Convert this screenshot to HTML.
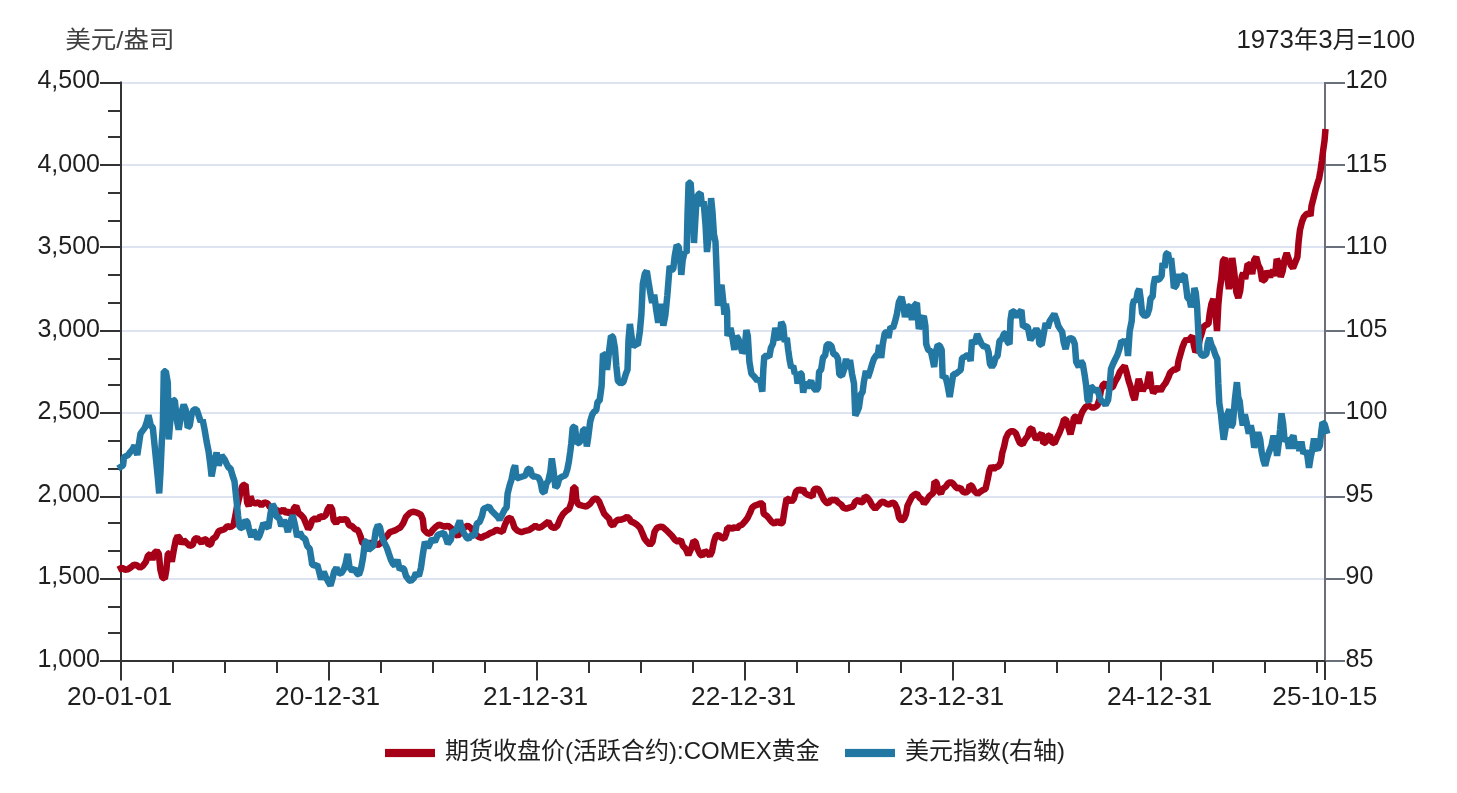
<!DOCTYPE html>
<html><head><meta charset="utf-8"><title>chart</title>
<style>
html,body{margin:0;padding:0;background:#fff;overflow:hidden}
svg{display:block}
text{font-family:"Liberation Sans","Noto Sans CJK SC",sans-serif;font-size:24px;fill:#1f1f1f}
.n{font-size:25.5px}
</style></head><body>
<svg width="1457" height="793" viewBox="0 0 1457 793">
<rect width="1457" height="793" fill="#fff"/>

<line x1="121" y1="579" x2="1325" y2="579" stroke="#dde3f0" stroke-width="2"/>
<line x1="121" y1="497" x2="1325" y2="497" stroke="#dde3f0" stroke-width="2"/>
<line x1="121" y1="413" x2="1325" y2="413" stroke="#dde3f0" stroke-width="2"/>
<line x1="121" y1="331" x2="1325" y2="331" stroke="#dde3f0" stroke-width="2"/>
<line x1="121" y1="247" x2="1325" y2="247" stroke="#dde3f0" stroke-width="2"/>
<line x1="121" y1="165" x2="1325" y2="165" stroke="#dde3f0" stroke-width="2"/>
<line x1="121" y1="83" x2="1325" y2="83" stroke="#dde3f0" stroke-width="2"/>
<line x1="1325" y1="82" x2="1325" y2="661" stroke="#6b6e7b" stroke-width="2"/>
<line x1="1325" y1="661" x2="1345" y2="661" stroke="#6b6e7b" stroke-width="2"/>
<line x1="1325" y1="579" x2="1345" y2="579" stroke="#6b6e7b" stroke-width="2"/>
<line x1="1325" y1="497" x2="1345" y2="497" stroke="#6b6e7b" stroke-width="2"/>
<line x1="1325" y1="413" x2="1345" y2="413" stroke="#6b6e7b" stroke-width="2"/>
<line x1="1325" y1="331" x2="1345" y2="331" stroke="#6b6e7b" stroke-width="2"/>
<line x1="1325" y1="247" x2="1345" y2="247" stroke="#6b6e7b" stroke-width="2"/>
<line x1="1325" y1="165" x2="1345" y2="165" stroke="#6b6e7b" stroke-width="2"/>
<line x1="1325" y1="83" x2="1345" y2="83" stroke="#6b6e7b" stroke-width="2"/>
<line x1="121" y1="81.5" x2="121" y2="680" stroke="#333333" stroke-width="2"/>
<line x1="100" y1="661" x2="121" y2="661" stroke="#333333" stroke-width="2"/>
<line x1="100" y1="579" x2="121" y2="579" stroke="#333333" stroke-width="2"/>
<line x1="100" y1="497" x2="121" y2="497" stroke="#333333" stroke-width="2"/>
<line x1="100" y1="413" x2="121" y2="413" stroke="#333333" stroke-width="2"/>
<line x1="100" y1="331" x2="121" y2="331" stroke="#333333" stroke-width="2"/>
<line x1="100" y1="247" x2="121" y2="247" stroke="#333333" stroke-width="2"/>
<line x1="100" y1="165" x2="121" y2="165" stroke="#333333" stroke-width="2"/>
<line x1="100" y1="83" x2="121" y2="83" stroke="#333333" stroke-width="2"/>
<line x1="108" y1="633" x2="121" y2="633" stroke="#333333" stroke-width="2"/>
<line x1="108" y1="607" x2="121" y2="607" stroke="#333333" stroke-width="2"/>
<line x1="108" y1="551" x2="121" y2="551" stroke="#333333" stroke-width="2"/>
<line x1="108" y1="523" x2="121" y2="523" stroke="#333333" stroke-width="2"/>
<line x1="108" y1="469" x2="121" y2="469" stroke="#333333" stroke-width="2"/>
<line x1="108" y1="441" x2="121" y2="441" stroke="#333333" stroke-width="2"/>
<line x1="108" y1="385" x2="121" y2="385" stroke="#333333" stroke-width="2"/>
<line x1="108" y1="359" x2="121" y2="359" stroke="#333333" stroke-width="2"/>
<line x1="108" y1="303" x2="121" y2="303" stroke="#333333" stroke-width="2"/>
<line x1="108" y1="275" x2="121" y2="275" stroke="#333333" stroke-width="2"/>
<line x1="108" y1="221" x2="121" y2="221" stroke="#333333" stroke-width="2"/>
<line x1="108" y1="193" x2="121" y2="193" stroke="#333333" stroke-width="2"/>
<line x1="108" y1="137" x2="121" y2="137" stroke="#333333" stroke-width="2"/>
<line x1="108" y1="111" x2="121" y2="111" stroke="#333333" stroke-width="2"/>
<line x1="100" y1="661" x2="1325" y2="661" stroke="#333333" stroke-width="2"/>
<line x1="121.00" y1="661" x2="121.00" y2="680.5" stroke="#333333" stroke-width="2"/>
<line x1="173.00" y1="661" x2="173.00" y2="673" stroke="#333333" stroke-width="2"/>
<line x1="225.00" y1="661" x2="225.00" y2="673" stroke="#333333" stroke-width="2"/>
<line x1="277.00" y1="661" x2="277.00" y2="673" stroke="#333333" stroke-width="2"/>
<line x1="329.00" y1="661" x2="329.00" y2="680.5" stroke="#333333" stroke-width="2"/>
<line x1="381.00" y1="661" x2="381.00" y2="673" stroke="#333333" stroke-width="2"/>
<line x1="433.00" y1="661" x2="433.00" y2="673" stroke="#333333" stroke-width="2"/>
<line x1="485.00" y1="661" x2="485.00" y2="673" stroke="#333333" stroke-width="2"/>
<line x1="537.00" y1="661" x2="537.00" y2="680.5" stroke="#333333" stroke-width="2"/>
<line x1="589.00" y1="661" x2="589.00" y2="673" stroke="#333333" stroke-width="2"/>
<line x1="641.00" y1="661" x2="641.00" y2="673" stroke="#333333" stroke-width="2"/>
<line x1="693.00" y1="661" x2="693.00" y2="673" stroke="#333333" stroke-width="2"/>
<line x1="745.00" y1="661" x2="745.00" y2="680.5" stroke="#333333" stroke-width="2"/>
<line x1="797.00" y1="661" x2="797.00" y2="673" stroke="#333333" stroke-width="2"/>
<line x1="849.00" y1="661" x2="849.00" y2="673" stroke="#333333" stroke-width="2"/>
<line x1="901.00" y1="661" x2="901.00" y2="673" stroke="#333333" stroke-width="2"/>
<line x1="953.00" y1="661" x2="953.00" y2="680.5" stroke="#333333" stroke-width="2"/>
<line x1="1005.00" y1="661" x2="1005.00" y2="673" stroke="#333333" stroke-width="2"/>
<line x1="1057.00" y1="661" x2="1057.00" y2="673" stroke="#333333" stroke-width="2"/>
<line x1="1109.00" y1="661" x2="1109.00" y2="673" stroke="#333333" stroke-width="2"/>
<line x1="1161.00" y1="661" x2="1161.00" y2="680.5" stroke="#333333" stroke-width="2"/>
<line x1="1213.00" y1="661" x2="1213.00" y2="673" stroke="#333333" stroke-width="2"/>
<line x1="1265.00" y1="661" x2="1265.00" y2="673" stroke="#333333" stroke-width="2"/>
<line x1="1317.00" y1="661" x2="1317.00" y2="673" stroke="#333333" stroke-width="2"/>
<line x1="1325" y1="661" x2="1325" y2="680" stroke="#333333" stroke-width="2"/>
<polyline fill="none" stroke="#a50018" stroke-width="6.5" stroke-linejoin="bevel" points="118.0,569.7 122.0,567.7 125.0,569.7 128.0,569.3 130.9,567.3 133.9,564.7 136.9,565.3 139.9,567.7 142.9,565.7 145.9,561.8 147.9,555.8 150.4,553.9 152.4,559.8 154.4,552.9 156.8,550.9 158.8,553.9 160.4,569.7 162.4,577.6 164.8,578.6 166.4,569.7 167.8,553.9 169.8,552.9 171.8,561.8 173.8,549.9 175.8,540.0 177.7,536.0 179.7,538.0 181.7,543.9 183.7,540.0 186.7,543.0 189.7,545.9 192.7,544.9 194.7,539.0 197.1,538.0 199.7,541.0 201.6,543.0 204.2,539.0 206.6,540.0 208.6,544.9 211.0,543.9 212.6,539.0 215.6,537.0 218.6,531.1 221.6,530.1 224.6,529.1 227.5,526.1 230.5,527.1 233.5,525.1 235.1,517.2 236.9,507.3 239.5,496.4 242.5,485.5 245.5,484.5 247.1,502.4 248.8,506.3 250.4,496.4 252.4,502.4 255.4,503.3 258.4,502.4 261.4,505.3 264.4,502.4 267.4,503.3 270.0,507.3 273.3,509.3 277.3,510.3 280.3,512.2 283.3,509.3 286.3,513.2 289.3,511.3 291.9,515.2 293.9,508.3 296.2,505.9 298.6,513.2 301.2,515.2 303.8,518.2 306.2,524.1 308.2,529.1 310.2,526.1 312.2,520.2 315.2,518.2 317.8,520.2 320.1,516.2 323.1,517.2 325.7,515.2 327.7,509.3 330.1,505.9 332.1,509.3 333.7,520.2 336.1,523.1 339.1,519.2 342.1,519.8 345.1,519.2 347.0,520.2 349.0,525.1 352.0,526.1 355.0,529.1 358.0,530.1 360.4,536.0 362.4,543.0 365.0,543.9 369.9,543.0 373.9,543.9 377.9,544.9 380.9,543.0 383.9,539.0 386.9,536.0 389.9,532.1 392.9,531.1 395.8,530.1 398.8,528.1 400.0,527.8 403.0,523.7 406.0,516.7 410.0,512.7 412.9,511.7 416.9,512.7 420.9,514.7 422.9,519.7 423.9,529.8 426.9,532.8 429.9,533.8 432.9,529.8 435.9,526.8 438.8,524.7 441.8,525.7 444.8,526.8 447.8,525.7 450.8,527.8 452.8,530.8 454.8,533.8 457.8,535.8 460.8,532.8 463.7,527.8 467.7,525.7 470.7,527.8 474.7,533.8 478.7,536.8 481.7,537.8 484.6,535.8 487.6,534.8 490.6,532.8 493.6,531.8 496.6,529.8 499.6,530.8 502.6,531.8 504.6,525.7 507.6,518.7 510.5,517.7 512.5,521.7 514.5,527.8 517.5,530.8 521.5,532.2 525.5,530.8 529.5,529.8 532.5,527.8 535.4,525.7 538.4,527.8 541.4,526.8 544.4,524.7 548.4,521.7 551.4,526.8 554.4,528.1 557.4,525.7 560.3,518.7 563.3,513.7 566.3,510.7 569.3,508.7 571.7,501.6 573.3,487.6 575.3,487.6 576.3,499.6 578.3,504.6 582.2,505.6 586.2,506.6 590.2,503.6 593.2,499.6 596.2,498.0 599.2,501.6 601.6,507.6 604.2,513.7 607.1,516.7 609.1,518.7 610.7,523.7 613.1,525.7 615.5,521.7 618.1,519.7 621.1,519.7 624.1,518.7 627.1,516.7 629.5,518.7 631.0,521.7 634.0,522.7 637.0,524.7 640.0,527.8 642.6,533.8 644.6,538.8 647.0,541.8 650.0,544.8 652.5,541.8 654.5,531.8 656.9,527.8 659.9,526.8 662.9,527.1 665.9,529.8 668.9,532.8 671.9,535.8 674.9,539.8 677.9,541.8 680.8,539.8 682.8,545.8 685.8,548.9 688.4,554.9 691.5,547.9 693.5,540.8 695.5,541.8 697.5,548.9 699.9,553.9 702.3,555.9 704.9,550.9 707.5,552.9 709.9,555.9 711.9,551.9 713.9,541.8 715.9,535.8 718.8,534.8 721.4,537.8 724.2,538.8 726.2,533.8 727.4,527.8 729.8,527.8 732.2,528.8 734.8,526.8 736.8,528.8 739.4,525.7 742.1,524.7 744.7,521.7 747.7,517.7 750.1,512.7 752.1,507.6 754.7,505.6 757.7,504.6 760.1,503.6 762.7,503.6 763.6,513.7 766.6,515.7 769.2,518.7 771.6,521.7 774.6,523.7 777.6,520.7 780.6,523.7 782.6,522.7 784.6,509.7 786.6,498.6 789.1,499.6 791.5,501.6 793.9,498.6 795.9,491.6 798.5,489.6 801.5,490.6 803.1,488.6 804.5,492.6 807.5,494.6 810.5,495.6 812.5,496.6 813.9,489.6 816.4,488.6 819.0,489.6 821.4,494.6 823.8,499.6 826.4,502.6 828.4,503.6 831.0,499.6 833.4,500.6 835.8,499.6 838.3,502.6 841.3,504.6 843.3,507.6 846.3,508.7 849.3,507.6 852.9,506.6 855.3,501.6 858.3,499.6 860.9,502.6 863.2,501.6 864.8,496.6 867.2,497.6 869.6,500.6 872.2,505.6 875.2,508.7 878.2,505.6 880.8,502.6 883.2,501.6 886.1,503.6 889.1,504.6 892.1,502.6 894.7,503.6 897.1,508.7 899.1,517.7 901.5,520.7 904.1,518.7 906.1,513.7 907.5,505.6 910.0,500.6 912.0,496.6 914.6,494.6 917.0,493.6 919.4,497.6 922.0,499.6 924.0,503.6 926.6,500.6 929.0,496.6 931.4,494.6 933.4,492.6 934.5,481.5 936.5,482.5 938.5,490.6 940.9,493.6 942.9,488.6 945.9,486.6 947.9,483.5 950.5,481.9 952.9,483.5 955.3,486.6 957.9,488.6 960.4,487.6 962.8,491.6 965.8,492.6 968.4,490.6 969.6,485.1 972.0,486.1 974.3,491.0 977.5,494.0 979.9,492.0 982.9,490.0 985.5,489.0 987.5,480.1 989.5,470.1 991.5,466.1 993.9,469.1 996.2,467.1 998.8,466.1 1000.8,462.2 1002.2,453.2 1004.2,446.2 1005.8,438.3 1008.2,433.3 1010.8,431.3 1013.4,431.3 1015.8,433.3 1017.8,438.3 1020.1,443.3 1022.7,444.2 1025.3,439.3 1027.7,436.3 1029.7,429.3 1032.1,428.3 1034.1,435.3 1036.1,439.3 1038.7,436.3 1041.7,433.3 1043.3,443.3 1045.7,442.3 1047.6,436.3 1050.0,435.3 1052.0,442.3 1054.6,443.3 1057.2,437.3 1059.6,432.3 1062.0,426.3 1064.0,419.4 1066.0,419.4 1068.0,426.3 1070.5,434.3 1072.5,426.3 1073.9,417.4 1076.5,416.4 1078.5,423.4 1080.5,416.4 1082.5,411.4 1085.1,407.4 1088.5,405.4 1091.5,407.4 1094.4,407.4 1097.4,405.4 1099.4,399.5 1100.8,391.0 1102.8,385.0 1105.4,383.0 1107.8,387.0 1110.2,388.0 1112.8,387.0 1115.4,381.0 1117.8,377.0 1119.8,372.0 1122.1,369.0 1124.7,366.0 1126.7,373.0 1128.7,381.0 1130.7,387.0 1132.7,395.0 1134.7,400.0 1136.7,389.0 1138.7,379.0 1140.7,385.0 1142.7,391.0 1144.7,386.0 1146.6,388.0 1148.0,379.0 1149.6,372.0 1151.2,385.0 1153.2,393.0 1155.6,390.0 1158.0,387.0 1160.6,391.0 1163.2,386.0 1165.6,383.0 1168.5,377.0 1170.0,373.0 1171.9,371.0 1174.5,369.0 1177.1,370.0 1178.5,361.0 1180.5,354.0 1182.5,347.0 1184.5,342.0 1186.5,339.0 1188.5,341.0 1190.5,338.0 1192.5,336.0 1193.8,345.0 1195.4,352.0 1197.8,349.0 1199.8,339.0 1201.8,333.0 1203.4,327.0 1205.8,325.0 1208.4,324.0 1209.8,313.0 1211.4,304.0 1213.4,299.0 1215.4,311.0 1217.0,331.0 1218.3,305.0 1219.7,290.0 1221.3,279.0 1222.9,261.0 1225.3,258.0 1226.9,273.0 1228.9,289.0 1230.9,277.0 1232.3,258.0 1234.3,273.0 1236.3,292.0 1238.3,298.0 1240.2,291.0 1241.7,277.0 1243.2,273.0 1245.2,279.0 1247.6,264.0 1250.2,265.0 1252.2,274.0 1254.2,260.0 1256.2,257.0 1258.2,265.0 1260.2,269.0 1262.2,281.0 1265.2,279.0 1267.1,271.0 1270.1,277.0 1273.1,270.0 1275.1,276.0 1276.7,259.0 1278.7,263.0 1280.7,277.0 1282.7,271.0 1284.7,259.0 1286.7,253.0 1288.7,259.0 1290.7,265.0 1293.0,268.0 1295.0,263.0 1297.4,257.0 1298.6,241.5 1300.0,229.7 1302.0,221.8 1304.0,216.8 1306.6,213.9 1309.2,213.5 1310.5,215.9 1311.5,206.0 1313.5,198.1 1315.5,190.2 1317.5,183.3 1319.1,178.4 1320.5,170.5 1321.9,160.7 1323.1,150.8 1324.5,140.9 1325.5,129.1"/>
<polyline fill="none" stroke="#2377a3" stroke-width="6.5" stroke-linejoin="bevel" points="118.0,468.5 123.0,465.5 124.0,457.1 128.0,455.1 129.9,452.5 132.5,449.5 134.5,445.5 137.3,455.1 140.5,433.6 144.9,427.6 146.9,421.6 148.5,415.2 150.8,425.6 152.8,427.6 154.8,447.5 157.8,477.4 159.2,493.4 160.4,473.5 161.8,441.5 162.8,427.6 163.8,371.3 165.8,371.3 167.8,382.7 168.8,439.5 170.4,419.6 172.8,399.6 174.8,400.6 177.1,421.6 178.7,429.6 181.7,411.6 183.7,404.6 185.7,409.6 187.7,427.6 189.7,425.6 191.7,413.6 193.7,409.6 196.7,409.6 198.7,415.6 200.7,421.6 202.6,419.6 204.6,429.6 206.6,441.5 208.6,451.5 210.2,463.5 211.6,476.4 213.6,465.5 216.6,452.5 218.6,465.5 221.6,455.5 224.6,459.5 226.5,463.5 228.5,467.5 230.5,468.5 232.5,475.4 234.5,481.4 236.5,500.4 238.1,516.2 239.5,527.1 242.5,528.1 245.5,520.2 247.4,522.1 248.8,528.1 251.4,537.0 253.4,530.1 255.4,534.0 257.4,539.0 259.4,536.0 261.4,530.1 263.4,523.1 266.0,526.1 268.4,528.1 270.4,514.2 272.4,504.3 274.3,507.3 276.3,516.2 279.3,518.2 281.3,526.1 283.9,520.2 285.9,524.1 287.9,532.1 290.3,522.1 292.7,515.2 295.2,526.1 297.2,537.0 299.8,532.1 302.2,537.0 305.2,539.0 307.2,545.9 309.8,548.9 311.2,557.8 312.2,564.7 315.2,565.7 317.2,564.7 319.2,571.7 321.1,579.6 323.7,571.7 325.7,576.6 328.1,581.6 330.5,585.5 332.5,578.6 334.1,571.7 336.5,567.7 338.5,572.7 341.1,573.6 343.6,569.7 345.6,563.8 347.6,553.9 349.6,567.7 352.0,570.7 355.0,568.7 357.0,573.6 359.0,574.6 361.0,568.7 363.0,557.8 365.0,542.0 367.0,541.0 368.4,549.9 370.9,547.9 373.5,545.9 375.9,530.1 377.9,525.1 379.9,527.1 381.9,536.0 383.9,542.0 386.9,547.9 388.9,553.9 390.9,559.8 392.9,563.8 394.8,565.7 397.4,559.8 399.8,569.7 402.0,568.0 404.0,569.0 406.0,576.0 409.0,580.0 410.9,581.0 413.9,578.0 415.9,573.0 418.9,576.0 420.9,568.0 422.9,553.9 424.9,541.8 427.9,547.9 429.9,543.8 431.9,538.8 434.9,541.8 437.8,534.8 440.8,533.8 443.8,532.8 445.8,537.8 447.8,543.8 450.8,539.8 452.8,530.8 455.8,531.8 457.8,525.7 459.8,520.7 461.7,527.8 463.7,532.8 466.7,537.8 468.7,538.8 471.7,534.8 474.7,535.8 476.7,523.7 479.7,521.7 482.1,515.7 483.6,508.7 486.6,507.6 489.0,506.6 491.6,510.7 494.6,513.7 497.6,516.7 499.6,519.7 501.6,515.7 504.6,509.7 506.6,507.6 507.6,493.6 509.6,485.5 511.5,479.5 513.5,469.5 515.1,465.4 516.5,478.5 519.5,477.5 522.5,476.5 525.5,475.5 527.5,469.5 529.9,468.5 532.5,476.5 535.4,476.5 538.4,477.5 540.4,481.5 542.4,491.6 544.4,492.6 546.4,483.5 548.4,480.5 550.4,471.5 551.8,458.4 553.4,469.5 555.4,487.6 557.4,485.5 559.3,478.5 562.3,476.5 565.3,475.5 567.3,469.5 568.9,461.4 570.3,451.4 571.3,443.4 572.7,427.5 574.9,426.5 576.9,443.4 579.3,442.4 581.6,439.4 583.2,429.5 585.2,429.5 586.8,446.4 588.2,437.4 590.2,421.5 592.2,414.6 594.2,411.6 596.2,410.6 597.6,401.7 599.6,400.7 601.6,385.7 603.0,353.9 605.0,354.9 607.0,369.8 609.0,351.9 611.0,336.0 613.0,337.0 614.9,347.9 616.3,365.8 617.9,380.8 620.9,383.7 623.5,381.8 625.9,373.8 627.5,369.8 628.5,340.0 629.9,324.0 631.5,336.0 632.9,346.9 635.5,343.9 637.8,344.9 639.8,332.0 641.4,314.1 642.8,283.9 644.8,273.9 646.8,270.9 648.8,283.9 650.8,295.8 652.2,302.8 654.2,294.8 656.2,309.7 658.2,322.7 659.8,311.7 661.4,303.8 663.3,325.7 665.3,315.7 667.3,295.8 668.7,277.9 669.7,265.9 671.7,269.9 673.3,268.9 674.7,256.0 676.7,245.0 678.7,247.0 680.3,259.9 681.3,274.9 682.7,259.9 684.6,252.0 686.6,253.0 687.6,212.1 688.6,182.7 690.6,182.7 692.0,202.2 693.2,222.1 694.0,243.0 695.2,222.1 696.6,198.2 698.6,194.2 700.6,193.2 702.0,206.2 703.6,201.2 705.6,226.1 707.0,252.0 708.5,238.0 710.0,215.1 711.1,198.2 712.5,212.1 713.9,234.1 715.5,242.0 716.5,267.9 717.9,305.8 719.5,291.8 721.5,284.8 723.1,299.8 724.5,314.7 725.9,303.8 727.1,311.7 727.5,336.0 730.5,328.0 732.5,338.0 734.4,349.9 736.4,336.0 738.4,339.0 740.4,345.9 742.4,352.9 744.4,349.9 746.4,330.0 747.8,336.0 749.4,361.9 751.4,373.8 754.4,376.8 757.4,380.8 759.3,378.8 760.9,383.7 762.3,391.7 763.3,369.8 764.3,355.9 767.3,355.9 769.3,356.9 770.9,347.9 772.9,343.9 775.3,328.0 777.7,336.0 779.3,340.0 781.2,322.0 783.2,326.0 784.8,341.9 786.8,338.0 788.2,349.9 789.6,359.9 791.2,367.8 793.2,365.8 794.8,373.8 796.2,371.8 797.6,383.7 799.6,372.8 801.6,373.8 803.2,392.7 805.1,381.8 807.1,387.7 809.1,383.7 811.1,380.8 813.5,387.7 816.1,390.7 818.1,387.7 819.1,371.8 821.1,369.8 823.1,356.9 825.1,355.9 826.7,344.9 829.0,343.9 831.4,345.9 833.4,353.9 836.0,354.9 838.0,358.9 839.4,374.8 842.0,375.8 844.0,369.8 846.0,358.9 848.0,368.8 850.0,359.9 852.0,373.8 854.0,383.7 855.3,415.6 857.3,411.6 858.9,407.6 860.9,393.7 862.5,392.7 863.9,381.8 865.9,370.8 867.9,377.8 869.9,371.8 871.9,364.8 873.9,358.9 875.9,355.9 877.9,353.9 879.2,344.9 881.2,357.9 882.8,343.9 884.8,333.0 886.8,332.0 888.4,338.0 890.4,327.0 893.0,328.0 894.9,322.0 896.9,314.0 898.9,302.0 901.5,297.0 903.5,306.0 904.9,317.0 907.5,306.0 909.9,307.0 911.9,320.0 914.3,306.0 916.9,303.0 918.8,329.0 921.4,320.0 923.8,316.0 925.4,326.0 926.2,344.0 928.2,350.0 930.8,351.0 932.8,360.0 934.2,367.0 935.8,352.0 937.8,345.0 939.8,346.0 941.7,350.0 942.7,378.0 945.3,376.0 947.3,384.0 949.7,397.0 951.7,384.0 953.3,374.0 955.7,374.0 958.1,372.0 960.7,370.0 962.1,358.0 964.6,357.0 967.2,355.0 969.2,356.0 970.6,361.0 972.0,340.0 974.6,344.0 977.2,334.0 979.2,339.0 981.6,344.0 984.0,347.0 986.6,346.0 988.5,352.0 990.0,364.0 991.9,367.0 993.9,364.0 995.5,358.0 997.5,356.0 999.5,341.0 1001.9,339.0 1003.9,334.0 1005.9,333.0 1007.5,342.0 1009.5,344.0 1010.5,320.0 1011.9,311.0 1014.4,312.0 1017.0,317.0 1019.0,313.0 1021.4,310.0 1023.0,327.0 1025.4,326.0 1027.8,327.0 1030.4,340.0 1032.4,337.0 1034.4,332.0 1036.3,329.0 1038.3,332.0 1039.3,344.0 1041.7,345.0 1043.7,334.0 1045.7,323.0 1047.7,328.0 1049.7,321.0 1051.7,318.0 1054.3,314.0 1056.3,319.0 1058.3,326.0 1060.2,329.0 1062.2,332.0 1063.6,342.0 1065.6,349.0 1067.6,340.0 1070.2,338.0 1072.8,339.0 1074.8,344.0 1076.2,362.0 1078.8,367.0 1080.8,361.0 1082.8,364.0 1084.8,376.0 1086.2,386.0 1087.5,400.0 1089.1,402.0 1090.7,386.0 1092.7,388.0 1094.7,392.0 1096.7,388.0 1098.7,394.0 1100.7,400.0 1103.1,402.0 1105.5,405.0 1108.1,400.0 1109.5,388.0 1111.0,369.0 1113.0,364.0 1115.4,359.0 1117.4,355.0 1119.4,349.0 1121.4,341.0 1124.0,342.0 1126.6,341.0 1128.0,356.0 1129.7,331.0 1131.7,321.0 1132.7,305.0 1134.1,300.0 1136.1,301.0 1137.7,292.0 1139.3,289.0 1140.7,299.0 1142.1,313.0 1144.7,316.0 1147.2,315.0 1149.2,309.0 1150.6,298.0 1152.6,297.0 1153.6,285.0 1155.2,277.0 1157.2,280.0 1159.6,279.0 1161.6,276.0 1162.6,263.0 1164.6,268.0 1166.0,254.0 1168.0,253.0 1169.5,262.0 1171.1,258.0 1172.5,271.0 1173.9,288.0 1176.5,285.0 1178.5,274.0 1180.5,282.0 1182.5,276.0 1184.5,275.0 1185.9,285.0 1187.5,298.0 1189.5,299.0 1191.1,307.0 1193.0,301.0 1194.4,288.0 1195.8,293.0 1197.0,305.0 1198.4,333.0 1199.4,351.0 1201.4,355.0 1203.8,356.0 1206.4,354.0 1207.8,343.0 1209.4,338.0 1211.4,345.0 1213.4,349.0 1215.4,355.0 1217.3,359.0 1218.3,383.2 1219.3,403.3 1220.9,413.4 1222.3,427.5 1223.7,439.6 1225.7,427.5 1227.3,414.4 1229.3,409.4 1230.9,427.5 1232.9,423.5 1234.9,399.3 1236.9,382.2 1238.3,397.3 1239.7,401.3 1241.2,415.4 1242.8,425.5 1244.8,414.4 1246.8,423.5 1248.8,433.6 1250.8,425.5 1252.8,435.6 1254.2,447.6 1256.2,439.6 1258.2,432.5 1260.2,439.6 1261.6,451.7 1263.2,459.7 1265.2,465.8 1267.1,457.7 1269.1,451.7 1271.5,445.6 1273.5,435.6 1275.5,443.6 1277.1,455.7 1278.7,443.6 1280.1,429.5 1281.5,413.4 1283.1,423.5 1284.7,441.6 1287.1,437.6 1289.0,448.6 1291.0,439.6 1293.4,435.6 1295.4,448.6 1297.4,441.6 1299.4,450.7 1301.4,441.6 1303.4,453.7 1305.4,450.7 1307.4,455.7 1309.0,467.8 1310.6,457.7 1312.5,448.6 1314.0,438.6 1315.9,447.6 1317.9,449.7 1319.9,445.6 1321.3,431.5 1322.5,422.5 1324.5,423.9 1326.1,429.5 1327.3,433.9"/>
<text class="n" x="100" y="667.0" text-anchor="end" textLength="62.6" lengthAdjust="spacingAndGlyphs">1,000</text>
<text class="n" x="1345.6" y="667.0" text-anchor="start" textLength="27.8" lengthAdjust="spacingAndGlyphs">85</text>
<text class="n" x="100" y="584.4" text-anchor="end" textLength="62.6" lengthAdjust="spacingAndGlyphs">1,500</text>
<text class="n" x="1345.6" y="584.4" text-anchor="start" textLength="27.8" lengthAdjust="spacingAndGlyphs">90</text>
<text class="n" x="100" y="501.9" text-anchor="end" textLength="62.6" lengthAdjust="spacingAndGlyphs">2,000</text>
<text class="n" x="1345.6" y="501.9" text-anchor="start" textLength="27.8" lengthAdjust="spacingAndGlyphs">95</text>
<text class="n" x="100" y="419.3" text-anchor="end" textLength="62.6" lengthAdjust="spacingAndGlyphs">2,500</text>
<text class="n" x="1345.6" y="419.3" text-anchor="start" textLength="41.7" lengthAdjust="spacingAndGlyphs">100</text>
<text class="n" x="100" y="336.7" text-anchor="end" textLength="62.6" lengthAdjust="spacingAndGlyphs">3,000</text>
<text class="n" x="1345.6" y="336.7" text-anchor="start" textLength="41.7" lengthAdjust="spacingAndGlyphs">105</text>
<text class="n" x="100" y="254.1" text-anchor="end" textLength="62.6" lengthAdjust="spacingAndGlyphs">3,500</text>
<text class="n" x="1345.6" y="254.1" text-anchor="start" textLength="41.7" lengthAdjust="spacingAndGlyphs">110</text>
<text class="n" x="100" y="171.6" text-anchor="end" textLength="62.6" lengthAdjust="spacingAndGlyphs">4,000</text>
<text class="n" x="1345.6" y="171.6" text-anchor="start" textLength="41.7" lengthAdjust="spacingAndGlyphs">115</text>
<text class="n" x="100" y="88.0" text-anchor="end" textLength="62.6" lengthAdjust="spacingAndGlyphs">4,500</text>
<text class="n" x="1345.6" y="88.0" text-anchor="start" textLength="41.7" lengthAdjust="spacingAndGlyphs">120</text>
<text class="n" x="119.6" y="705.4" text-anchor="middle" textLength="105" lengthAdjust="spacingAndGlyphs">20-01-01</text>
<text class="n" x="327.6" y="705.4" text-anchor="middle" textLength="105" lengthAdjust="spacingAndGlyphs">20-12-31</text>
<text class="n" x="535.6" y="705.4" text-anchor="middle" textLength="105" lengthAdjust="spacingAndGlyphs">21-12-31</text>
<text class="n" x="743.6" y="705.4" text-anchor="middle" textLength="105" lengthAdjust="spacingAndGlyphs">22-12-31</text>
<text class="n" x="951.6" y="705.4" text-anchor="middle" textLength="105" lengthAdjust="spacingAndGlyphs">23-12-31</text>
<text class="n" x="1159.6" y="705.4" text-anchor="middle" textLength="105" lengthAdjust="spacingAndGlyphs">24-12-31</text>
<text class="n" x="1324.8" y="705.4" text-anchor="middle" textLength="105" lengthAdjust="spacingAndGlyphs">25-10-15</text>
<text x="65.2" y="48.4" text-anchor="start" textLength="109.4" lengthAdjust="spacingAndGlyphs" style="fill:#404040">美元/盎司</text>
<text x="1415.2" y="48.2" text-anchor="end" textLength="178.8" lengthAdjust="spacingAndGlyphs"><tspan class="n">1973</tspan>年<tspan class="n">3</tspan>月<tspan class="n">=100</tspan></text>
<rect x="385" y="748.9" width="50" height="8.2" fill="#a50018"/>
<text x="445" y="759.3">期货收盘价(活跃合约):COMEX黄金</text>
<rect x="845" y="748.9" width="50" height="8.2" fill="#2377a3"/>
<text x="905" y="759.3">美元指数(右轴)</text>
</svg></body></html>
